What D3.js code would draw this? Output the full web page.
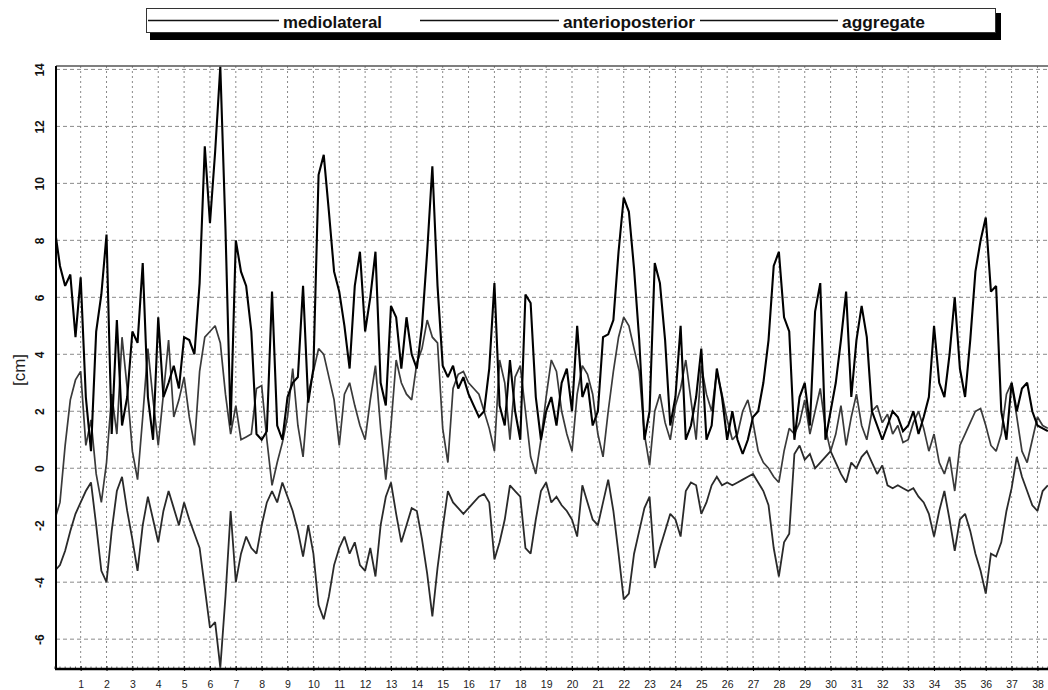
<!DOCTYPE html>
<html>
<head>
<meta charset="utf-8">
<script src="https://cdn.jsdelivr.net/npm/d3@7"></script>
<style>
  html, body { margin: 0; padding: 0; background: #fff; }
  svg { display: block; }
</style>
</head>
<body>
<svg id="chart" width="1048" height="690"></svg>
<script>
// ---- data (sampled every 0.2 time units) ----
const sampleStep = 0.2;
const seriesNames = ["mediolateral", "anterioposterior", "aggregate"];
const xTickLabels = d3.range(1, 39).map(String);
const yTickValues = [-6, -4, -2, 0, 2, 4, 6, 8, 10, 12, 14];
const yLabel = "[cm]";

const mediolateral = [
  -1.8,-1.2,0.8,2.4,3.1,  3.4,0.8,1.7,-0.2,-1.2,  0.2,2.6,1.2,4.6,2.8,  0.6,-0.4,1.8,4.2,2.4,
  0.8,2.6,4.5,1.8,2.4,  3.2,1.8,0.8,3.4,4.6,  4.8,5.0,4.4,2.6,1.2,  2.2,1.0,1.1,1.2,2.8,
  2.9,1.0,-0.6,0.2,0.9,  1.8,3.5,1.5,0.4,2.6,  3.4,4.2,4.0,3.2,2.4,  0.8,2.6,3.0,2.2,1.5,
  1.0,2.4,3.6,1.4,-0.4,  1.5,3.8,3.0,2.6,2.4,  3.7,4.2,5.2,4.6,4.4,  1.4,0.2,2.8,3.3,3.4,
  3.0,2.8,2.6,2.0,1.4,  0.6,3.8,3.0,1.0,3.2,  3.6,2.0,0.4,-0.2,1.0,  2.5,3.8,3.4,2.0,1.2,
  0.6,2.6,3.6,3.3,2.6,  1.2,0.4,2.0,3.4,4.6,  5.3,5.0,4.2,3.4,1.2,  0.1,2.0,2.6,1.6,1.0,
  2.2,2.8,3.8,2.4,1.0,  3.6,2.6,2.0,3.4,2.6,  1.7,1.0,1.2,2.0,2.4,  1.6,0.6,0.2,0.0,-0.3,
  -0.5,0.6,1.4,1.2,1.6,  2.4,1.2,2.0,2.8,1.4,  0.6,1.2,2.2,0.8,1.8,  2.6,1.5,1.0,2.0,2.2,
  1.6,1.9,1.2,1.5,0.9,  1.0,1.6,2.0,1.4,0.6,  1.2,0.2,-0.2,0.4,-0.8,  0.8,1.2,1.6,2.0,2.1,
  1.5,0.8,0.6,1.2,2.6,  3.0,1.8,0.6,0.2,1.0,  1.8,1.5,1.4
];
const anterioposterior = [
  -3.6,-3.4,-2.9,-2.2,-1.6,  -1.2,-0.8,-0.5,-2.0,-3.6,  -4.0,-2.2,-0.8,-0.3,-1.5,  -2.5,-3.6,-2.0,-1.0,-1.8,
  -2.6,-1.5,-0.8,-1.4,-2.0,  -1.2,-1.8,-2.3,-2.8,-4.2,  -5.6,-5.4,-7.0,-4.5,-1.5,  -4.0,-3.0,-2.4,-2.8,-3.0,
  -2.0,-1.2,-0.8,-1.2,-0.5,  -1.0,-1.5,-2.2,-3.1,-2.0,  -3.0,-4.8,-5.3,-4.5,-3.4,  -2.8,-2.4,-3.0,-2.6,-3.4,
  -3.6,-2.8,-3.8,-2.0,-1.0,  -0.5,-1.6,-2.6,-2.0,-1.4,  -1.5,-2.5,-3.7,-5.2,-3.5,  -2.1,-0.8,-1.2,-1.4,-1.6,
  -1.4,-1.2,-1.0,-0.9,-1.2,  -3.2,-2.6,-1.8,-0.6,-0.8,  -1.0,-2.8,-3.0,-1.8,-0.8,  -0.5,-1.2,-1.0,-1.3,-1.5,
  -1.8,-2.4,-0.6,-1.2,-1.8,  -2.0,-1.2,-0.4,-1.5,-3.0,  -4.6,-4.4,-3.0,-2.2,-1.4,  -1.0,-3.5,-2.8,-2.2,-1.6,
  -1.8,-2.4,-0.8,-0.5,-0.6,  -1.6,-1.2,-0.6,-0.3,-0.6,  -0.5,-0.6,-0.5,-0.4,-0.3,  -0.2,-0.5,-0.8,-1.3,-2.8,
  -3.8,-2.6,-2.3,0.5,0.8,  0.3,0.5,0.0,0.2,0.4,  0.6,0.2,-0.2,-0.5,0.2,  0.0,0.4,0.6,0.2,-0.2,
  0.1,-0.6,-0.7,-0.6,-0.7,  -0.8,-0.7,-1.0,-1.2,-1.6,  -2.4,-1.5,-0.8,-1.8,-2.9,  -1.8,-1.6,-2.2,-3.0,-3.6,
  -4.4,-3.0,-3.1,-2.6,-1.5,  -0.7,0.4,-0.3,-0.8,-1.3,  -1.5,-0.8,-0.6
];
const aggregate = [
  8.4,7.1,6.4,6.8,4.6,  6.7,2.5,0.6,4.8,6.1,  8.2,1.2,5.2,1.5,2.5,  4.8,4.4,7.2,2.5,1.0,
  5.3,2.5,3.0,3.6,2.8,  4.6,4.5,4.0,6.5,11.3,  8.6,11.1,14.1,8.4,1.5,  8.0,6.9,6.4,4.8,1.2,
  1.0,1.3,6.2,1.5,1.0,  2.5,3.0,3.2,6.4,2.3,  3.5,10.3,11.0,9.0,6.9,  6.2,5.0,3.5,6.4,7.6,
  4.8,6.0,7.6,3.0,2.2,  5.7,5.3,3.5,5.3,4.0,  3.5,5.0,7.6,10.6,6.4,  3.6,3.2,3.6,2.8,3.2,
  2.6,2.2,1.8,2.0,3.5,  6.5,2.2,1.5,3.8,2.0,  1.0,6.1,5.8,2.5,1.0,  2.0,2.5,1.5,3.0,3.5,
  2.0,5.0,2.5,3.0,1.5,  2.0,4.6,4.7,5.2,7.6,  9.5,9.0,7.0,4.5,1.0,  2.0,7.2,6.5,4.5,1.5,
  2.5,5.0,1.0,1.5,2.5,  4.2,1.0,1.5,3.5,2.5,  1.0,2.0,1.0,0.5,1.0,  1.8,2.0,3.0,4.5,7.1,
  7.6,5.3,4.8,1.0,2.5,  3.0,1.5,5.5,6.5,1.0,  2.0,3.0,4.5,6.2,2.5,  4.5,5.7,4.6,2.0,1.5,
  1.0,1.5,2.0,1.8,1.3,  1.5,2.0,1.2,1.8,2.5,  5.0,3.0,2.5,4.0,6.0,  3.5,2.5,4.5,6.9,8.0,
  8.8,6.2,6.4,2.0,1.0,  3.0,2.0,2.8,3.0,2.0,  1.5,1.4,1.3
];
const seriesValues = [mediolateral, anterioposterior, aggregate];

// ---- layout ----
const svg = d3.select("#chart");
const plot = { left: 56, top: 66, right: 1050, bottom: 669 };

const x = d3.scaleLinear().domain([0, 38.5]).range([54.8, 54.8 + 25.86 * 38.5]);
const y = d3.scaleLinear().domain([-7.03, 14.12]).range([668.5, 66]);

svg.append("defs").append("clipPath").attr("id", "clip")
  .append("rect").attr("x", plot.left).attr("y", plot.top)
  .attr("width", plot.right - plot.left).attr("height", plot.bottom - plot.top);

// grid
const grid = svg.append("g");
grid.selectAll("line.h").data(yTickValues).enter().append("line")
  .attr("x1", plot.left).attr("x2", plot.right)
  .attr("y1", d => y(d)).attr("y2", d => y(d))
  .attr("stroke", "#8a8a8a").attr("stroke-width", 1).attr("stroke-dasharray", "4,3");
grid.selectAll("line.v").data(xTickLabels).enter().append("line")
  .attr("x1", (d, i) => x(i + 1)).attr("x2", (d, i) => x(i + 1))
  .attr("y1", plot.top).attr("y2", plot.bottom)
  .attr("stroke", "#8a8a8a").attr("stroke-width", 1).attr("stroke-dasharray", "2,3");

// series
const line = d3.line().x((d, i) => x(i * sampleStep)).y(d => y(d));
const styles = [
  { color: "#3a3a3a", width: 1.7 },
  { color: "#2a2a2a", width: 1.8 },
  { color: "#000000", width: 2.1 }
];
const lines = svg.append("g").attr("clip-path", "url(#clip)");
seriesValues.forEach((vals, k) => {
  lines.append("path").datum(vals).attr("d", line)
    .attr("fill", "none").attr("stroke", styles[k].color)
    .attr("stroke-width", styles[k].width).attr("stroke-linejoin", "miter")
    .attr("stroke-miterlimit", 2);
});

// frame
svg.append("line").attr("x1", plot.left).attr("x2", plot.right).attr("y1", plot.top).attr("y2", plot.top)
  .attr("stroke", "#555").attr("stroke-width", 1.5);
svg.append("line").attr("x1", plot.left).attr("x2", plot.left).attr("y1", plot.top).attr("y2", plot.bottom)
  .attr("stroke", "#000").attr("stroke-width", 2);

// bottom axis
const xAxis = d3.axisBottom(x)
  .tickValues(d3.range(1, 39))
  .tickFormat((d, i) => xTickLabels[i])
  .tickSize(3).tickPadding(9);
const gx = svg.append("g").attr("transform", `translate(0,${plot.bottom})`).call(xAxis);
gx.select(".domain").remove();
gx.selectAll(".tick line").attr("stroke", "#000").attr("y1", -3).attr("y2", 2);
gx.selectAll(".tick text").attr("font-family", "Liberation Sans, Arial, sans-serif")
  .attr("font-size", 10.5).attr("fill", "#222");
// minor ticks
svg.append("g").selectAll("line").data(d3.range(0, 193).map(i => i * 0.2)).enter().append("line")
  .attr("x1", d => x(d)).attr("x2", d => x(d))
  .attr("y1", plot.bottom - 2.5).attr("y2", plot.bottom)
  .attr("stroke", "#444").attr("stroke-width", 0.8);
svg.append("line").attr("x1", plot.left - 1).attr("x2", plot.right).attr("y1", plot.bottom).attr("y2", plot.bottom)
  .attr("stroke", "#000").attr("stroke-width", 2.5);

// left axis labels (rotated)
const yAxis = d3.axisLeft(y).tickValues(yTickValues).tickSize(0).tickFormat(d => String(d).replace("\u2212", "-"));
const gy = svg.append("g").attr("transform", `translate(${plot.left},0)`).call(yAxis);
gy.select(".domain").remove();
gy.selectAll(".tick text")
  .attr("x", 0).attr("dy", null)
  .attr("transform", "translate(-12,0) rotate(-90)")
  .attr("text-anchor", "middle")
  .attr("font-family", "Liberation Sans, Arial, sans-serif")
  .attr("font-weight", "bold").attr("font-size", 12).attr("fill", "#111");

svg.append("text").attr("transform", `translate(25,370) rotate(-90)`)
  .attr("text-anchor", "middle")
  .attr("font-family", "Liberation Sans, Arial, sans-serif")
  .attr("font-size", 17).attr("fill", "#222").text(yLabel);

// legend
const legend = svg.append("g");
legend.append("rect").attr("x", 150).attr("y", 13).attr("width", 851).attr("height", 27).attr("fill", "#000");
legend.append("rect").attr("x", 146.5).attr("y", 8.5).attr("width", 849).attr("height", 24)
  .attr("fill", "#fff").attr("stroke", "#333").attr("stroke-width", 1);
const legendItems = [
  { x1: 148, x2: 279, tx: 283, tw: 99 },
  { x1: 420, x2: 559, tx: 563, tw: 132 },
  { x1: 700, x2: 838, tx: 842, tw: 83 }
];
legendItems.forEach((it, k) => {
  legend.append("line").attr("x1", it.x1).attr("x2", it.x2).attr("y1", 20.5).attr("y2", 20.5)
    .attr("stroke", "#111").attr("stroke-width", 1.6);
  legend.append("text").attr("x", it.tx).attr("y", 27.5)
    .attr("font-family", "Liberation Sans, Arial, sans-serif").attr("font-weight", "bold")
    .attr("font-size", 16).attr("textLength", it.tw).attr("lengthAdjust", "spacingAndGlyphs")
    .attr("fill", "#111").text(seriesNames[k]);
});
</script>
</body>
</html>
